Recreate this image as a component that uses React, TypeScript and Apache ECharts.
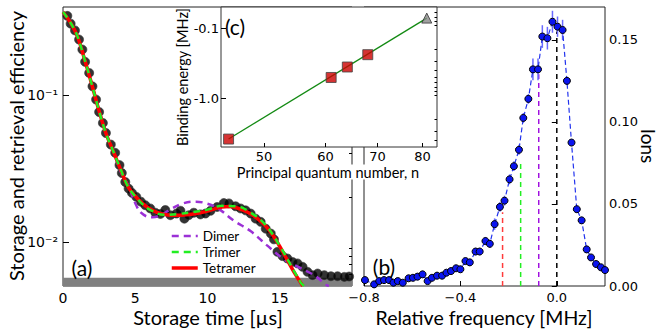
import React, { useEffect, useRef } from 'react';
import * as echarts from 'echarts';

// ---- Panel (a): storage and retrieval efficiency ----
const effTime = [0.3, 0.53, 0.83, 1.11, 1.34, 1.53, 1.81, 2.04, 2.29, 2.5, 2.76, 2.97, 3.31, 3.61, 3.91, 4.07, 4.31, 4.54, 4.77, 5.07, 5.39, 5.69, 6.04, 6.39, 6.74, 7.08, 7.43, 7.85, 8.13, 8.4, 8.7, 9.05, 9.51, 9.86, 10.21, 10.67, 11.13, 11.48, 11.94, 12.29, 12.64, 12.99, 13.33, 13.68, 14.03, 14.38, 14.6, 14.84, 15.19, 15.53, 15.88, 16.23, 16.58, 16.92, 17.27, 17.62, 18.08, 18.54, 19.0, 19.47, 19.8];
const effValue = [0.348, 0.308, 0.277, 0.24, 0.205, 0.169, 0.142, 0.115, 0.0935, 0.0769, 0.0647, 0.0553, 0.0461, 0.0405, 0.0334, 0.0295, 0.0256, 0.0231, 0.0216, 0.0203, 0.0188, 0.0178, 0.0169, 0.0158, 0.0155, 0.0165, 0.0152, 0.0156, 0.0163, 0.0144, 0.0152, 0.0158, 0.0154, 0.0156, 0.0163, 0.0173, 0.0184, 0.0183, 0.0175, 0.0169, 0.0164, 0.0156, 0.0144, 0.0137, 0.0123, 0.0114, 0.0104, 0.00855, 0.008, 0.0077, 0.0073, 0.00713, 0.00676, 0.00625, 0.00593, 0.00608, 0.00593, 0.00583, 0.00583, 0.00577, 0.0058];

const tetramerTime = [0, 0.5, 1, 1.5, 2, 2.5, 3, 3.5, 4, 4.5, 5, 5.5, 6, 6.5, 7, 7.5, 8, 8.5, 9, 9.5, 10, 10.5, 11, 11.5, 12, 12.5, 13, 13.5, 14, 14.5, 15, 15.5, 16, 16.6];
const tetramerValue = [0.37, 0.315, 0.252, 0.175, 0.118, 0.078, 0.054, 0.041, 0.031, 0.0238, 0.0205, 0.0183, 0.0168, 0.0159, 0.0154, 0.0152, 0.0152, 0.0153, 0.0155, 0.0158, 0.0162, 0.0168, 0.0173, 0.0174, 0.0171, 0.0164, 0.0155, 0.0143, 0.0129, 0.0112, 0.0093, 0.0076, 0.0062, 0.005];

const trimerTime = [0, 0.5, 1, 1.5, 2, 2.5, 3, 3.5, 4, 4.5, 5, 5.5, 6, 7, 8, 9, 10, 11, 12, 13, 14, 15, 16, 16.5, 16.7];
const trimerValue = [0.37, 0.315, 0.252, 0.175, 0.118, 0.078, 0.054, 0.041, 0.031, 0.0238, 0.0204, 0.0181, 0.0166, 0.0153, 0.0155, 0.016, 0.0166, 0.0176, 0.0175, 0.0158, 0.0131, 0.0094, 0.0063, 0.0052, 0.005];

const dimerTime = [0, 0.5, 1, 1.5, 2, 2.5, 3, 3.5, 4, 4.5, 4.8, 5.1, 5.4, 5.8, 6.2, 6.8, 7.5, 8.3, 9.2, 10, 10.7, 11.8, 13, 14.1, 15.3, 16.2, 17.4, 18.2, 18.4];
const dimerValue = [0.37, 0.315, 0.252, 0.176, 0.119, 0.079, 0.055, 0.041, 0.03, 0.0245, 0.0205, 0.0175, 0.0158, 0.0149, 0.0147, 0.0153, 0.0168, 0.0183, 0.0188, 0.0182, 0.017, 0.014, 0.0118, 0.0095, 0.0076, 0.0068, 0.0059, 0.0051, 0.005];

const noiseFloor = [0.005, 0.0057];
const effTimeTicks = [0, 5, 10, 15];
const effMajorTicks = [0.01, 0.1];
const effMinorTicks = [0.006, 0.007, 0.008, 0.009, 0.02, 0.03, 0.04, 0.05, 0.06, 0.07, 0.08, 0.09, 0.2, 0.3];

// ---- Panel (b): ion spectrum ----
const freqX = [-0.796, -0.758, -0.737, -0.717, -0.696, -0.678, -0.66, -0.639, -0.615, -0.597, -0.578, -0.557, -0.536, -0.518, -0.497, -0.476, -0.458, -0.439, -0.418, -0.4, -0.379, -0.361, -0.337, -0.32, -0.296, -0.278, -0.258, -0.236, -0.217, -0.196, -0.178, -0.157, -0.139, -0.118, -0.099, -0.078, -0.06, -0.039, -0.018, 0.003, 0.024, 0.042, 0.061, 0.083, 0.103, 0.124, 0.142, 0.163, 0.183, 0.2];
const ionsY = [0.0036, 0.001, 0.003, 0.0036, 0.0036, 0.002, 0.003, 0.002, 0.0047, 0.005, 0.0057, 0.0071, 0.003, 0.005, 0.0063, 0.0063, 0.0081, 0.0091, 0.0108, 0.0102, 0.0152, 0.0144, 0.021, 0.021, 0.0274, 0.0257, 0.0377, 0.0482, 0.052, 0.065, 0.073, 0.083, 0.1024, 0.114, 0.132, 0.132, 0.152, 0.151, 0.161, 0.158, 0.156, 0.125, 0.0874, 0.0468, 0.04, 0.0223, 0.0174, 0.0134, 0.0114, 0.0097];
const ionsErr = [0.0012, 0.0012, 0.0012, 0.0012, 0.0012, 0.0012, 0.0012, 0.0012, 0.0012, 0.0013, 0.0013, 0.0014, 0.0012, 0.0013, 0.0014, 0.0014, 0.0015, 0.0015, 0.0016, 0.0016, 0.0018, 0.0018, 0.0022, 0.0022, 0.0025, 0.0025, 0.0035, 0.003, 0.003, 0.003, 0.003, 0.003, 0.003, 0.003, 0.0066, 0.0066, 0.0069, 0.0069, 0.0067, 0.0062, 0.0062, 0.0025, 0.002, 0.002, 0.0018, 0.0015, 0.0015, 0.0013, 0.0013, 0.0012];

const markerNames = ['Monomer', 'Dimer line', 'Trimer line', 'Tetramer line'];
const markerFreq = [0, -0.075, -0.15, -0.225];
const markerHeight = [0.155, 0.129, 0.0748, 0.045];
const markerColors = ['#000000', '#a010e0', '#22ee22', '#ff3b3b'];
const freqTicks = [-0.8, -0.4, 0];
const ionTicks = [0, 0.05, 0.1, 0.15];

// ---- Inset (c): binding energies ----
const quantumN = [45, 61, 64, 68];
const bindingMag = [3.85, 0.508, 0.36, 0.24];
const extrapN = [81];
const extrapMag = [0.072];
const fitN = [45, 81];
const fitMag = [3.85, 0.072];
const nTicks = [50, 60, 70, 80];
const bindMajorTicks = [0.1, 1];
const bindMinorTicks = [0.06, 0.07, 0.08, 0.09, 0.2, 0.3, 0.4, 0.5, 0.6, 0.7, 0.8, 0.9, 2, 3, 4];

const TICK_FONT = 'DejaVu Sans';
const TITLE_FONT = 'Lato';

const DIMER_COLOR = '#9b30d6';
const TRIMER_COLOR = '#22ee22';
const TETRAMER_COLOR = '#ff0000';

const zip = (a: number[], b: number[]) => a.map((v, i) => [v, b[i]]);

function buildOption(): any {
  const supers: Record<string, string> = { '-1': '10\u207B\u00B9', '-2': '10\u207B\u00B2' };
  const grids = [
    { left: 63, top: 7, width: 289, height: 279, show: true, borderColor: '#222', borderWidth: 1, backgroundColor: 'transparent', z: 0 },
    { left: 364, top: 7, width: 241, height: 279, show: true, borderColor: '#222', borderWidth: 1, backgroundColor: 'transparent', z: 0 },
    { left: 221, top: 7, width: 216, height: 140, show: true, borderColor: '#333', borderWidth: 1, backgroundColor: '#ffffff', z: 10 },
  ].map((g) => ({ ...g, containLabel: false, outerBoundsMode: 'none' }));

  const tickLabel = { fontFamily: TICK_FONT, fontSize: 13, color: '#000' };

  const xAxis = [
    {
      type: 'value', gridIndex: 0, min: 0, max: 20,
      axisLine: { show: false }, splitLine: { show: false },
      axisTick: { inside: true, length: 5, lineStyle: { color: '#000' }, customValues: effTimeTicks },
      axisLabel: { ...tickLabel, fontSize: 14, margin: 5, customValues: effTimeTicks },
    },
    {
      type: 'value', gridIndex: 1, min: -0.8, max: 0.2,
      axisLine: { show: false }, splitLine: { show: false },
      axisTick: { inside: true, length: 5, lineStyle: { color: '#000' }, customValues: freqTicks },
      axisLabel: { ...tickLabel, fontSize: 13, margin: 5, customValues: freqTicks, formatter: (v: number) => (v < 0 ? '\u2212' : '') + Math.abs(v).toFixed(1) },
    },
    {
      type: 'log', gridIndex: 2, min: 44, max: 83.5, z: 11,
      axisLine: { show: false }, splitLine: { show: false },
      axisTick: { inside: true, length: 4, lineStyle: { color: '#000' }, customValues: nTicks },
      axisLabel: { ...tickLabel, fontSize: 13, margin: 3, customValues: nTicks, formatter: (v: number) => String(Math.round(v)) },
    },
  ];

  const yAxis = [
    {
      type: 'log', gridIndex: 0, min: 0.005, max: 0.4,
      axisLine: { show: false }, splitLine: { show: false },
      axisTick: { inside: true, length: 6, lineStyle: { color: '#000' }, customValues: effMajorTicks },
      axisLabel: { ...tickLabel, fontSize: 14, margin: 5, customValues: effMajorTicks, formatter: (v: number) => supers[String(Math.round(Math.log10(v)))] || '' },
    },
    {
      type: 'log', gridIndex: 0, min: 0.005, max: 0.4,
      axisLine: { show: false }, splitLine: { show: false },
      axisTick: { inside: true, length: 3, lineStyle: { color: '#000' }, customValues: effMinorTicks },
      axisLabel: { show: false },
    },
    {
      type: 'value', gridIndex: 1, min: 0, max: 0.17, position: 'right',
      axisLine: { show: false }, splitLine: { show: false },
      axisTick: { inside: true, length: 5, lineStyle: { color: '#000' }, customValues: ionTicks },
      axisLabel: { ...tickLabel, fontSize: 13, margin: 4, customValues: ionTicks, formatter: (v: number) => v.toFixed(2) },
    },
    {
      type: 'log', gridIndex: 2, min: 0.05, max: 5, inverse: true, z: 11,
      axisLine: { show: false }, splitLine: { show: false },
      axisTick: { inside: true, length: 5, lineStyle: { color: '#000' }, customValues: bindMajorTicks },
      axisLabel: { ...tickLabel, fontSize: 13, margin: 2, customValues: bindMajorTicks, formatter: (v: number) => '-' + v.toFixed(1) },
    },
    {
      type: 'log', gridIndex: 2, min: 0.05, max: 5, inverse: true, z: 11,
      axisLine: { show: false }, splitLine: { show: false },
      axisTick: { inside: true, length: 2.5, lineStyle: { color: '#000' }, customValues: bindMinorTicks },
      axisLabel: { show: false },
    },
  ];

  const series: any[] = [
    {
      type: 'scatter', name: 'Data', xAxisIndex: 0, yAxisIndex: 0, z: 2,
      data: zip(effTime, effValue), symbol: 'circle', symbolSize: 9,
      itemStyle: { color: '#000', borderColor: '#333', borderWidth: 0.8 },
      markArea: {
        silent: true, itemStyle: { color: '#808080', opacity: 1 },
        data: [[{ yAxis: noiseFloor[0] }, { yAxis: noiseFloor[1] }]],
      },
    },
    {
      type: 'line', name: 'Dimer', xAxisIndex: 0, yAxisIndex: 0, z: 3, smooth: 0.4, symbol: 'none', clip: true,
      data: zip(dimerTime, dimerValue), lineStyle: { color: DIMER_COLOR, width: 2.5, type: [7, 5] }, itemStyle: { color: DIMER_COLOR },
    },
    {
      type: 'line', name: 'Trimer', xAxisIndex: 0, yAxisIndex: 0, z: 5, smooth: 0.4, symbol: 'none', clip: true,
      data: zip(trimerTime, trimerValue), lineStyle: { color: TRIMER_COLOR, width: 2.5, type: [7, 5] }, itemStyle: { color: TRIMER_COLOR },
    },
    {
      type: 'line', name: 'Tetramer', xAxisIndex: 0, yAxisIndex: 0, z: 4, smooth: 0.4, symbol: 'none', clip: true,
      data: zip(tetramerTime, tetramerValue), lineStyle: { color: TETRAMER_COLOR, width: 3.5 }, itemStyle: { color: TETRAMER_COLOR },
    },
    {
      type: 'custom', name: 'Errors', xAxisIndex: 1, yAxisIndex: 2, z: 3, clip: true,
      data: freqX.map((x, i) => [x, ionsY[i], ionsErr[i]]),
      renderItem: (params: any, api: any) => {
        const x = api.value(0), y = api.value(1), e = api.value(2);
        const p1 = api.coord([x, y - e]);
        const p2 = api.coord([x, y + e]);
        return { type: 'line', shape: { x1: p1[0], y1: p1[1], x2: p2[0], y2: p2[1] }, style: { stroke: '#6a6aff', lineWidth: 1.5 } };
      },
    },
    ...markerFreq.map((f, i) => ({
      type: 'line', name: markerNames[i], xAxisIndex: 1, yAxisIndex: 2, z: 2, symbol: 'none',
      data: [[f, 0], [f, markerHeight[i]]],
      lineStyle: { color: markerColors[i], width: 1.5, type: [5, 4] },
    })),
    {
      type: 'line', name: 'Ions', xAxisIndex: 1, yAxisIndex: 2, z: 4, clip: true,
      data: zip(freqX, ionsY), symbol: 'circle', symbolSize: 7, showSymbol: true,
      lineStyle: { color: '#2233ee', width: 1.2, type: [5, 3] },
      itemStyle: { color: '#0a14f0', borderColor: '#000', borderWidth: 1 },
    },
    {
      type: 'line', name: 'Fit', xAxisIndex: 2, yAxisIndex: 3, z: 12, symbol: 'none',
      data: zip(fitN, fitMag), lineStyle: { color: '#138a13', width: 1.3 },
    },
    {
      type: 'scatter', name: 'Measured', xAxisIndex: 2, yAxisIndex: 3, z: 13,
      data: zip(quantumN, bindingMag), symbol: 'rect', symbolSize: 10,
      itemStyle: { color: '#cc0000', borderColor: '#444', borderWidth: 1 },
    },
    {
      type: 'scatter', name: 'Extrapolated', xAxisIndex: 2, yAxisIndex: 3, z: 13,
      data: zip(extrapN, extrapMag), symbol: 'triangle', symbolSize: 10,
      itemStyle: { color: '#888888', borderColor: '#333', borderWidth: 1 },
    },
  ];

  const txt = (text: string, x: number, y: number, size: number, rotation = 0, bg?: string) => ({
    type: 'text', x, y, rotation, z: 100,
    style: {
      text, fill: '#000', font: `${size}px "${TITLE_FONT}"`,
      textAlign: 'center', textVerticalAlign: 'middle', align: 'center', verticalAlign: 'middle',
      ...(bg ? { backgroundColor: bg, padding: [0, 2] } : {}),
    },
  });

  const hiddenSymbol = { color: 'rgba(0,0,0,0)', borderColor: 'rgba(0,0,0,0)', borderWidth: 0 };

  return {
    animation: false,
    backgroundColor: '#ffffff',
    grid: grids,
    xAxis,
    yAxis,
    series,
    legend: {
      data: [
        { name: 'Dimer', itemStyle: hiddenSymbol, lineStyle: { color: DIMER_COLOR, width: 2.5, type: [7, 5] } },
        { name: 'Trimer', itemStyle: hiddenSymbol, lineStyle: { color: TRIMER_COLOR, width: 2.5, type: [7, 5] } },
        { name: 'Tetramer', itemStyle: hiddenSymbol, lineStyle: { color: TETRAMER_COLOR, width: 3.5 } },
      ],
      orient: 'vertical', left: 165, top: 224, itemWidth: 26, itemHeight: 14, itemGap: 2,
      itemStyle: hiddenSymbol,
      textStyle: { fontFamily: TITLE_FONT, fontSize: 13.5, color: '#000' },
      selectedMode: false, backgroundColor: 'transparent',
    },
    graphic: [
      txt('Storage and retrieval efficiency', 16, 146, 20, Math.PI / 2),
      txt('Storage time [\u00B5s]', 208, 317, 20),
      txt('Relative frequency [MHz]', 484, 317, 19.5),
      txt('Ions', 648, 146, 19, -Math.PI / 2),
      txt('Binding energy [MHz]', 182, 77, 14.5, Math.PI / 2),
      txt('Principal quantum number, n', 328, 172, 14.5, 0, '#ffffff'),
      txt('(a)', 82, 267, 21),
      txt('(b)', 384, 266, 21),
      txt('(c)', 235, 26, 21),
    ],
  };
}

export default function App() {
  const ref = useRef<HTMLDivElement>(null);
  useEffect(() => {
    if (!ref.current) return;
    const chart = echarts.init(ref.current, null, { renderer: 'svg' });
    chart.setOption(buildOption());
    return () => chart.dispose();
  }, []);
  return (
    <div
      ref={ref}
      style={{ position: 'fixed', left: 0, top: 0, width: 661, height: 331, background: '#fff' }}
    />
  );
}
